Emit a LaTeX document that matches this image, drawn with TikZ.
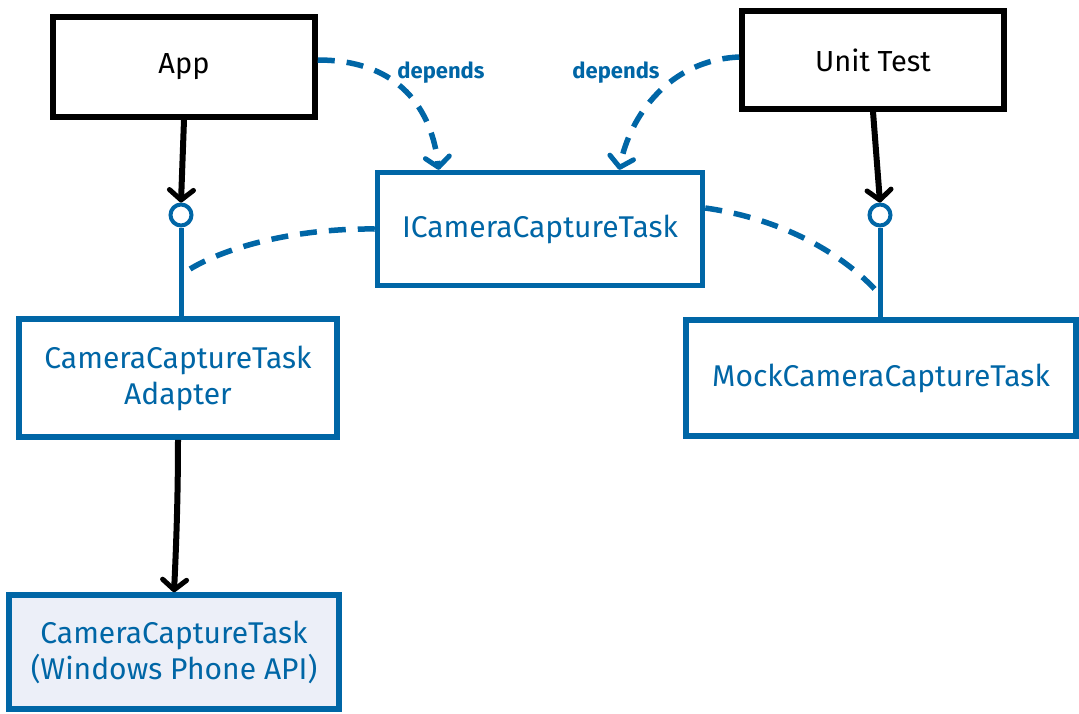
\documentclass[tikz,border=0pt]{standalone}
\usepackage{fontspec}
\setmainfont{Fira Sans}
\usetikzlibrary{arrows.meta}
\definecolor{sblue}{RGB}{0,102,166}
\definecolor{sfill}{RGB}{236,239,248}
\begin{document}
\begin{tikzpicture}[x=1pt,y=-1pt,
  blackbox/.style={draw=black,line width=5.5pt,fill=white,font=\fontsize{29}{33}\selectfont,inner sep=0pt},
  bluebox/.style={draw=sblue,line width=5.5pt,fill=white,text=sblue,font=\fontsize{30}{36}\selectfont,inner sep=0pt,align=center},
  lolly/.style={circle,draw=sblue,line width=4pt,fill=white,minimum size=21pt,inner sep=0pt},
  stem/.style={draw=sblue,line width=5pt},
  tip/.style={-{Straight Barb[length=10pt,width=24pt,line width=5pt,round]}},
  usearrow/.style={draw=black,line width=6pt,tip},
  dep/.style={draw=sblue,line width=5.5pt,dash pattern=on 17pt off 12pt},
  deparrow/.style={dep,tip},
  deplabel/.style={text=sblue,font=\fontsize{22}{26}\selectfont\bfseries,inner sep=0pt}]
\useasboundingbox (0,0) rectangle (1079,713);

\node[blackbox,minimum width=262pt,minimum height=100pt] (app) at (184,67) {App};
\node[blackbox,minimum width=262pt,minimum height=98pt] (ut) at (873,60) {Unit Test};
\node[bluebox,minimum width=325pt,minimum height=113pt] (icc) at (540,229) {ICameraCaptureTask};
\node[bluebox,minimum width=318pt,minimum height=118pt] (adp) at (178,378) {CameraCaptureTask\\Adapter};
\node[bluebox,minimum width=390pt,minimum height=116pt] (mock) at (881,378) {MockCameraCaptureTask};
\node[bluebox,fill=sfill,minimum width=330pt,minimum height=114pt] (wp) at (174,652) {CameraCaptureTask\\(Windows Phone API)};

\node[lolly] (c1) at (181,215) {};
\node[lolly] (c2) at (880,215) {};
\draw[stem] (c1.south) -- (adp.north -| c1);
\draw[stem] (c2.south) -- (mock.north -| c2);
\coordinate (s1) at (181,275);
\coordinate (s2) at (880,295);

\draw[usearrow] (app.south) -- (c1.north);
\draw[usearrow] (ut.south) -- (c2.north);
\draw[usearrow] (adp.south) .. controls (178,500) and (176,550) .. (wp.north);

\draw[dep] (icc.west) .. controls (290,228) and (215,250) .. (s1);
\draw[dep] ([yshift=21pt]icc.east) .. controls (790,220) and (850,260) .. (s2);

\draw[deparrow] ([yshift=7pt]app.east) .. controls (400,60) and (432,110) .. ([xshift=64pt]icc.north west);
\draw[deparrow] ([yshift=3pt]ut.west) .. controls (670,60) and (630,115) .. ([xshift=-86pt]icc.north east);

\node[deplabel] (l1) at (441,73) {depends};
\node[deplabel] (l2) at (616,73) {depends};
\end{tikzpicture}
\end{document}
